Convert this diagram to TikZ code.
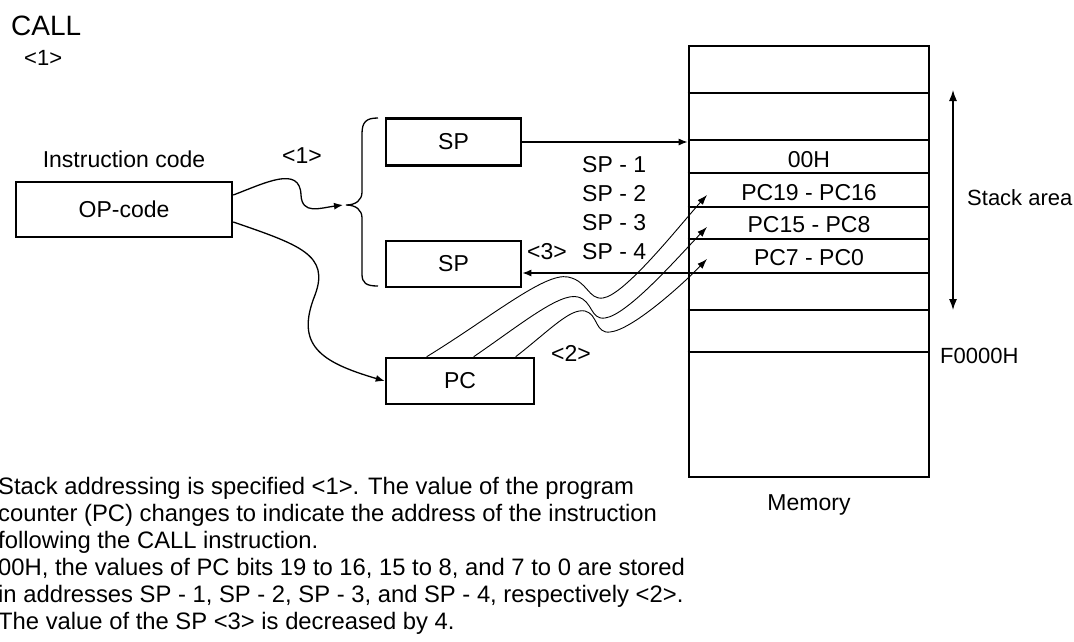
\documentclass[tikz,border=0pt]{standalone}
\usepackage{fontspec}
\setmainfont{Liberation Sans}
\usetikzlibrary{arrows.meta}

\begin{document}
\begin{tikzpicture}[x=1pt, y=-1pt,
    every node/.style={font=\fontsize{23}{27}\selectfont, inner sep=0pt},
    box/.style={draw, line width=2.6pt},
    arr/.style={-{Latex[length=9pt,width=7pt]}, line width=1.3pt},
    wave/.style={-{Latex[length=10pt,width=7pt]}, line width=0.9pt},
    cell/.style={line width=1.4pt}]
    \fill[white] (0,0) rectangle (1074,641);
    \useasboundingbox (0,0) rectangle (1074,641);

    \node[anchor=base west, font=\fontsize{28}{32}\selectfont] (call) at (11,35) {CALL};
    \node[anchor=base west, font=\fontsize{22}{25}\selectfont] (callref) at (24,65) {<1>};

    \node[anchor=base] (instr) at (124,167) {Instruction code};
    \node[box, minimum width=216pt, minimum height=55pt] (op) at (124,209.5) {OP-code};
    \node[box, minimum width=135pt, minimum height=47pt] (sptop) at (453.5,142) {SP};
    \node[box, minimum width=135pt, minimum height=46pt] (spbot) at (453.5,264) {SP};
    \node[box, minimum width=148pt, minimum height=46pt] (pc) at (460,381) {PC};
    \node[box, minimum width=240pt, minimum height=431pt] (mem) at (809,261.5) {};

    \node[anchor=base] (ref1) at (302,163) {<1>};
    \node[anchor=base] (ref3) at (547,259) {<3>};
    \node[anchor=base] (ref2) at (571,361) {<2>};
    \foreach \k in {1,...,4}
        \node[anchor=base west] (sp\k) at (582,143+29*\k) {SP - \k};

    \foreach \y in {93,140,173,207,239,273,310,352}
        \draw[cell] (mem.west |- 0,\y) -- (mem.east |- 0,\y);
    \node[anchor=base] (c1) at (809,167) {00H};
    \node[anchor=base] (c2) at (809,200) {PC19 - PC16};
    \node[anchor=base] (c3) at (809,232) {PC15 - PC8};
    \node[anchor=base] (c4) at (809,265) {PC7 - PC0};
    \node[anchor=base west, font=\fontsize{22}{26}\selectfont] (area) at (967,205) {Stack area};
    \node[anchor=base west, font=\fontsize{22}{26}\selectfont] (f0) at (940,363) {F0000H};
    \node[anchor=base] (memlbl) at (809,510) {Memory};

    \coordinate (stop) at (953,90);
    \coordinate (sbot) at (953,310);
    \draw[{Latex[length=11pt,width=8pt]}-{Latex[length=11pt,width=8pt]}, line width=1.2pt] (stop) -- (sbot);

    \coordinate (brtip) at (346,205);
    \draw[line width=1.3pt] (378,118) .. controls (366,118) and (362,122) .. (362,134) -- (362,192)
        .. controls (362,200) and (356,205) .. (brtip) .. controls (356,205) and (362,210) .. (362,218)
        -- (362,274) .. controls (362,283) and (366,286) .. (378,286);

    \draw[arr] (op.east |- 0,195) .. controls (265,183) and (300,165) .. (301,195)
        .. controls (302,215) and (320,208) .. ([xshift=-3pt]brtip);
    \draw[arr] (op.east |- 0,222) .. controls (300,245) and (330,255) .. (315,295)
        .. controls (295,345) and (320,362) .. (pc.west);

    \draw[arr] (sptop.east) -- (sptop.east -| mem.west);
    \coordinate (spout) at (mem.west |- 0,273);
    \draw[arr] (spout) -- (spout -| spbot.east);

    \coordinate (ta) at (707,195);
    \coordinate (tb) at (707,227);
    \coordinate (tc) at (707,259);
    \draw[wave] ([xshift=42pt]pc.north west) .. controls (490,318) and (545,272) .. (568,277)
        .. controls (588,281) and (588,300) .. (603,298) .. controls (625,295) and (680,225) .. (ta);
    \draw[wave] ([xshift=89pt]pc.north west) .. controls (520,325) and (560,292) .. (578,297)
        .. controls (593,301) and (590,320) .. (605,318) .. controls (628,315) and (680,255) .. (tb);
    \draw[wave] ([xshift=131pt]pc.north west) .. controls (550,330) and (570,308) .. (585,311)
        .. controls (598,314) and (595,334) .. (610,332) .. controls (632,330) and (682,285) .. (tc);

    \node[anchor=north west, align=left, font=\fontsize{23.8}{27}\selectfont] (note) at (-2,477)
        {Stack addressing is specified <1>. The value of the program\\
         counter (PC) changes to indicate the address of the instruction\\
         following the CALL instruction.\\
         00H, the values of PC bits 19 to 16, 15 to 8, and 7 to 0 are stored\\
         in addresses SP - 1, SP - 2, SP - 3, and SP - 4, respectively <2>.\\
         The value of the SP <3> is decreased by 4.};
\end{tikzpicture}
\end{document}
